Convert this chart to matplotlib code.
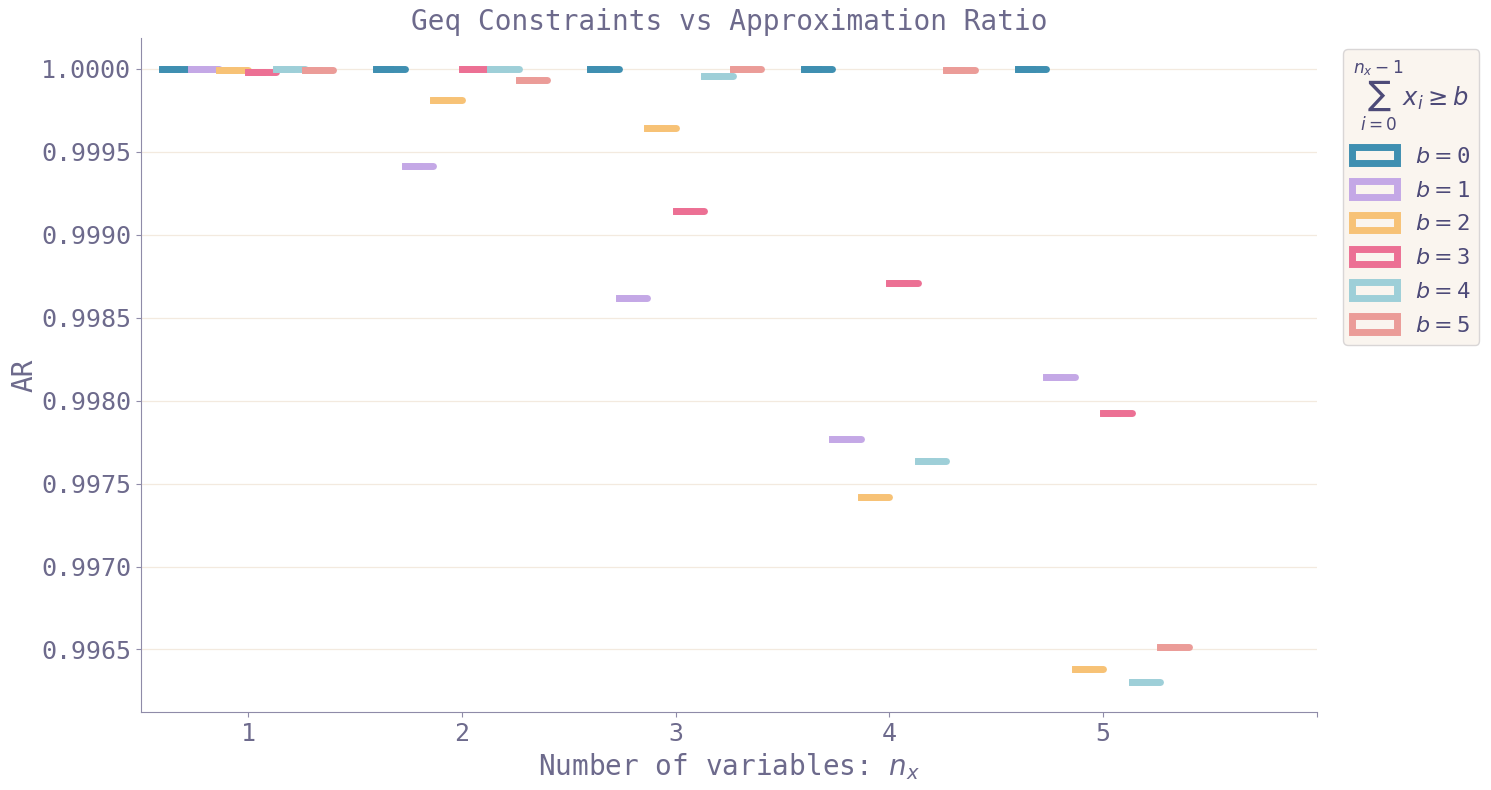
"""Geq constraints vs approximation ratio, one short bar per (n_x, b) pair."""

import matplotlib.pyplot as plt
from matplotlib.patches import Patch

# Number of variables on the x-axis, one group per value.
n_vars = [1, 2, 3, 4, 5]
# Approximation ratio per right-hand side b of sum(x_i) >= b.
ar_b0 = [1.0, 1.0, 1.0, 1.0, 1.0]
ar_b1 = [1.0, 0.999415, 0.998618, 0.997767, 0.998141]
ar_b2 = [0.999994, 0.999814, 0.999646, 0.997420, 0.996384]
ar_b3 = [0.999982, 1.0, 0.999144, 0.998709, 0.997924]
ar_b4 = [1.0, 1.0, 0.999955, 0.997634, 0.996306]
ar_b5 = [0.999994, 0.999936, 1.0, 0.999991, 0.996517]
b_values = [0, 1, 2, 3, 4, 5]
x_tick_labels = ["1", "2", "3", "4", "5", ""]

_COLORS = ["#3f8fb1", "#c4a8e6", "#f7c276", "#ec7094", "#9ecfd8", "#eb9c98"]
_INK = "#6d6a8c"
_INK_LEGEND = "#4d4a78"
_SPINE = "#8f8ba8"
_GRID = "#f3eadf"
_FONT = "DejaVu Sans Mono"

plt.rcParams["font.family"] = _FONT
plt.rcParams["mathtext.fontset"] = "dejavusans"

fig = plt.figure(figsize=(14.91, 7.9), dpi=100)
ax = fig.add_axes([0.0946, 0.0984, 0.7887, 0.8531])

series = [ar_b0, ar_b1, ar_b2, ar_b3, ar_b4, ar_b5]
group_width = 0.8
box_width = group_width / len(series)
line_width = 5

for b, values in enumerate(series):
    color = _COLORS[b]
    for n, value in zip(n_vars, values):
        x0 = n - group_width / 2 + b * box_width
        x1 = x0 + box_width
        # round right end, square left end
        ax.plot([x0, x1], [value, value], color=color, lw=line_width,
                solid_capstyle="round", zorder=3)
        ax.plot([x0, x0 + box_width / 2], [value, value], color=color,
                lw=line_width, solid_capstyle="projecting", zorder=3)

all_values = [v for values in series for v in values]
low, high = min(all_values), max(all_values)
pad = (high - low) * 0.05
ax.set_ylim(low - pad, high + pad)
ax.set_xlim(0.5, 6.0)
ax.set_xticks([1, 2, 3, 4, 5, 6])
ax.set_xticklabels(x_tick_labels)
ax.set_yticks([0.9965, 0.9970, 0.9975, 0.9980, 0.9985, 0.9990, 0.9995, 1.0])
ax.set_yticklabels([f"{t:.4f}" for t in ax.get_yticks()])

ax.grid(axis="y", color=_GRID, linewidth=0.9)
ax.set_axisbelow(True)
for side in ("top", "right"):
    ax.spines[side].set_visible(False)
for side in ("left", "bottom"):
    ax.spines[side].set_color(_SPINE)
ax.tick_params(colors=_SPINE, labelcolor=_INK, labelsize=18)

ax.set_title("Geq Constraints vs Approximation Ratio", color=_INK, fontsize=20)
ax.set_xlabel("Number of variables: $n_x$", color=_INK, fontsize=20)
ax.set_ylabel("AR", color=_INK, fontsize=20, labelpad=2)

handles = [
    Patch(facecolor="none", edgecolor=c, linewidth=line_width,
          label=r"$b = \mathtt{" + str(b) + "}$")
    for c, b in zip(_COLORS, b_values)
]
legend = ax.legend(
    handles=handles,
    title=r"$\sum_{i=0}^{n_x-1} x_i \geq b$",
    loc="upper left",
    bbox_to_anchor=(1.013, 1.0),
    fontsize=16,
    title_fontsize=17.5,
    labelspacing=0.62,
    labelcolor=_INK_LEGEND,
    facecolor="#faf5ef",
    edgecolor="#d9d6d6",
    framealpha=1.0,
)
legend.get_title().set_color(_INK_LEGEND)

fig.savefig("out.png", dpi=100, facecolor="white")
